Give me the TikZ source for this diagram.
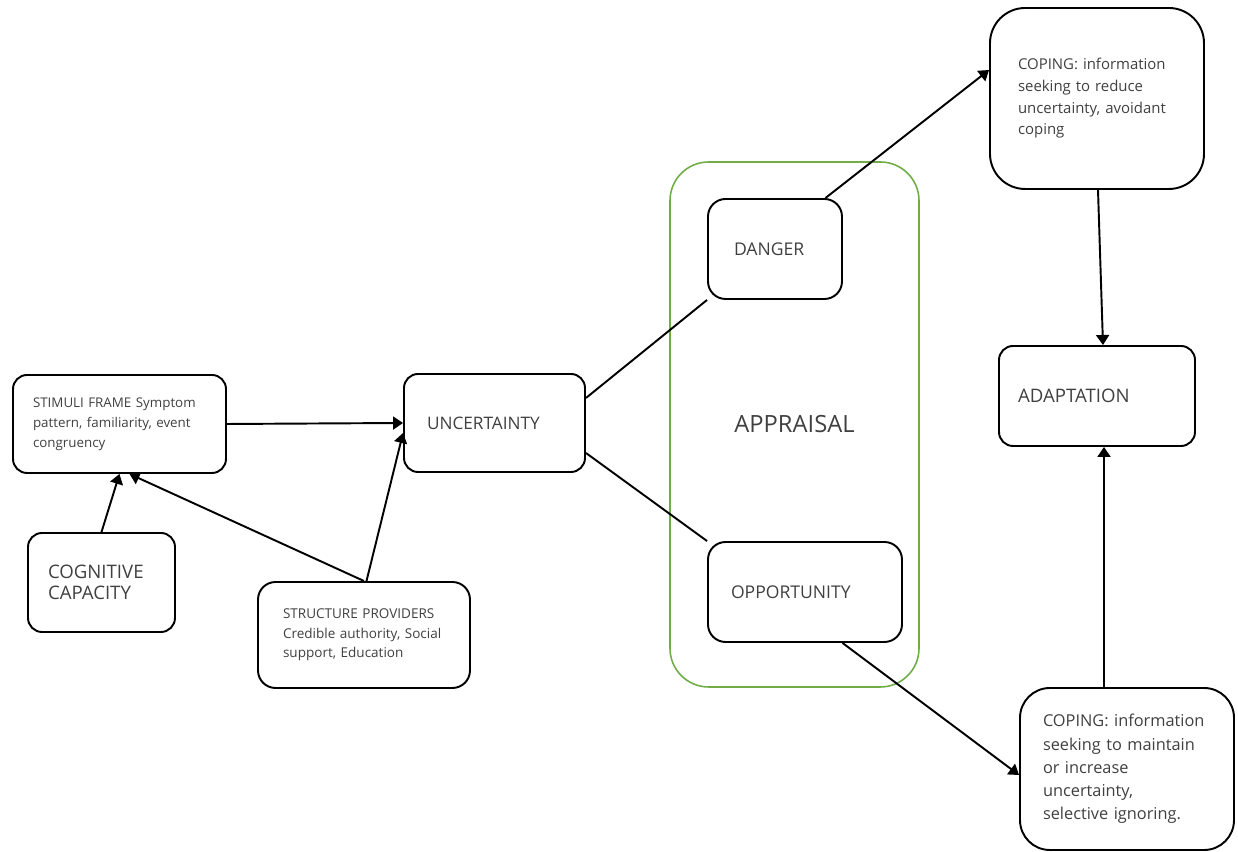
\documentclass[tikz,border=0pt]{standalone}
\usepackage{fontspec}
\setmainfont{Open Sans}
\usetikzlibrary{arrows.meta}
\definecolor{framegreen}{HTML}{70AD47}
\definecolor{textgray}{HTML}{404040}

\begin{document}
\begin{tikzpicture}[
  box/.style={draw, line width=1.1pt, rounded corners=8pt, align=left, text=textgray},
  frame/.style={draw=framegreen, line width=0.9pt, rounded corners=22pt, minimum width=4.98cm, minimum height=10.5cm, text=textgray, font=\fontsize{13.5}{15}\selectfont},
  arr/.style={-{Triangle[length=2mm,width=2.6mm]}, line width=1.1pt},
  link/.style={line width=1.1pt},
]
  \useasboundingbox (0,0) rectangle (24.76,17.04);

  \node[frame] (appraisal) at (15.89,8.55) {APPRAISAL};

  \node[box, minimum width=4.26cm, minimum height=1.96cm, text width=3.46cm, inner xsep=0.4cm, font=\fontsize{7.6}{11.3}\selectfont] (stim) at (2.39,8.56) {STIMULI FRAME Symptom\\pattern, familiarity, event\\congruency};
  \node[box, minimum width=2.94cm, minimum height=1.98cm, text width=2.14cm, inner xsep=0.4cm, font=\fontsize{10.6}{11.9}\selectfont] (cog) at (2.03,5.39) {COGNITIVE\\CAPACITY};
  \node[box, rounded corners=10pt, minimum width=4.24cm, minimum height=2.12cm, text width=3.24cm, inner xsep=0.5cm, font=\fontsize{7.7}{11.1}\selectfont] (struct) at (7.28,4.34) {STRUCTURE PROVIDERS\\\mbox{Credible authority, Social}\\support, Education};
  \node[box, minimum width=3.62cm, minimum height=1.96cm, text width=2.7cm, inner xsep=0.46cm, font=\fontsize{9.8}{12}\selectfont] (unc) at (9.89,8.58) {UNCERTAINTY};
  \node[box, rounded corners=10pt, minimum width=2.68cm, minimum height=2cm, text width=1.64cm, inner xsep=0.52cm, font=\fontsize{10}{12}\selectfont] (danger) at (15.5,12.06) {DANGER};
  \node[box, rounded corners=10pt, minimum width=3.88cm, minimum height=2cm, text width=2.96cm, inner xsep=0.46cm, font=\fontsize{10}{12}\selectfont] (opp) at (16.1,5.2) {OPPORTUNITY};
  \node[box, rounded corners=20pt, minimum width=4.28cm, minimum height=3.62cm, text width=3.16cm, inner xsep=0.56cm, font=\fontsize{8.5}{12.3}\selectfont] (cop1) at (21.94,15.07) {COPING: information\\seeking to reduce\\uncertainty, avoidant\\coping};
  \node[box, minimum width=3.92cm, minimum height=2cm, text width=3.16cm, inner xsep=0.38cm, font=\fontsize{10.6}{12}\selectfont] (adapt) at (21.94,9.12) {ADAPTATION};
  \node[box, rounded corners=17pt, minimum width=4.28cm, minimum height=3.24cm, text width=3.36cm, inner xsep=0.46cm, font=\fontsize{9.3}{13.2}\selectfont] (cop2) at (22.54,1.66) {COPING: information\\seeking to maintain\\or increase\\uncertainty,\\selective ignoring.};

  \draw[arr] (stim.east) -- (unc.west);
  \draw[arr] (cog.north) -- (stim.south);
  \draw[arr] (struct.north) -- ([xshift=2mm]stim.south);
  \draw[arr] ([xshift=0.05cm]struct.north) -- ([yshift=-0.2cm]unc.west);
  \draw[link] ([yshift=0.5cm]unc.east) -- (danger.south west);
  \draw[link] ([yshift=-0.6cm]unc.east) -- (opp.north west);
  \draw[arr] ([xshift=-0.35cm]danger.north east) -- ([yshift=0.57cm]cop1.west);
  \draw[arr] ([xshift=0.02cm]cop1.south) -- ([xshift=0.12cm]adapt.north);
  \draw[arr] ([xshift=-0.46cm]cop2.north) -- ([xshift=0.14cm]adapt.south);
  \draw[arr] ([xshift=0.75cm]opp.south) -- ([yshift=-0.12cm]cop2.west);
\end{tikzpicture}
\end{document}
